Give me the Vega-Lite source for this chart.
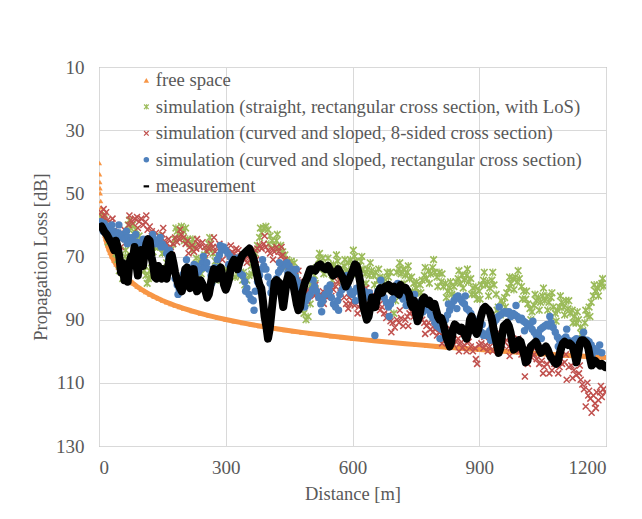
{
  "$schema": "https://vega.github.io/schema/vega-lite/v6.json",
  "width": 507,
  "height": 379,
  "autosize": {"type": "none"},
  "padding": {"left": 99, "top": 67, "right": 36, "bottom": 73},
  "background": "white",
  "config": {
    "font": "Liberation Serif",
    "view": {"stroke": "#8c8c8c", "strokeWidth": 1},
    "axis": {
      "domain": false, "ticks": false, "grid": true, "gridColor": "#d9d9d9", "gridWidth": 1,
      "labelFont": "Liberation Serif", "labelFontSize": 19, "labelColor": "#595959",
      "titleFont": "Liberation Serif", "titleFontSize": 18.5, "titleColor": "#595959", "titleFontWeight": "normal"
    },
    "legend": {
      "labelFont": "Liberation Serif", "labelFontSize": 18.7, "labelColor": "#595959", "labelLimit": 0,
      "symbolSize": 30, "rowPadding": 6.5, "labelOffset": 0, "symbolStrokeWidth": 0
    }
  },
  "datasets": {
    "fs": [
      {"d":1,"L":40.4},{"d":1.5,"L":43.92},{"d":2,"L":46.42},{"d":2.5,"L":48.36},{"d":3,"L":49.94},{"d":4,"L":52.44},{"d":5,"L":54.38},{"d":6,"L":55.96},{"d":7,"L":57.3},{"d":8,"L":58.46},{"d":9,"L":59.48},{"d":10,"L":60.4},{"d":12,"L":61.98},{"d":14,"L":63.32},{"d":16,"L":64.48},{"d":18,"L":65.51},{"d":20,"L":66.42},{"d":23,"L":67.64},{"d":26,"L":68.7},{"d":30,"L":69.94},{"d":35,"L":71.28},{"d":40,"L":72.44},{"d":45,"L":73.46},{"d":50,"L":74.38},{"d":55,"L":75.21},{"d":60,"L":75.96},{"d":65,"L":76.66},{"d":70,"L":77.3},{"d":75,"L":77.9},{"d":80,"L":78.46},{"d":90,"L":79.48},{"d":100,"L":80.4},{"d":110,"L":81.23},{"d":120,"L":81.98},{"d":130,"L":82.68},{"d":140,"L":83.32},{"d":150,"L":83.92},{"d":160,"L":84.48},{"d":170,"L":85.01},{"d":180,"L":85.51},{"d":190,"L":85.98},{"d":200,"L":86.42},{"d":220,"L":87.25},{"d":240,"L":88.0},{"d":260,"L":88.7},{"d":280,"L":89.34},{"d":300,"L":89.94},{"d":320,"L":90.5},{"d":340,"L":91.03},{"d":360,"L":91.53},{"d":380,"L":92.0},{"d":400,"L":92.44},{"d":420,"L":92.86},{"d":440,"L":93.27},{"d":460,"L":93.66},{"d":480,"L":94.02},{"d":500,"L":94.38},{"d":525,"L":94.8},{"d":550,"L":95.21},{"d":575,"L":95.59},{"d":600,"L":95.96},{"d":625,"L":96.32},{"d":650,"L":96.66},{"d":675,"L":96.99},{"d":700,"L":97.3},{"d":725,"L":97.61},{"d":750,"L":97.9},{"d":775,"L":98.19},{"d":800,"L":98.46},{"d":825,"L":98.73},{"d":850,"L":98.99},{"d":875,"L":99.24},{"d":900,"L":99.48},{"d":925,"L":99.72},{"d":950,"L":99.95},{"d":975,"L":100.18},{"d":1000,"L":100.4},{"d":1025,"L":100.61},{"d":1050,"L":100.82},{"d":1075,"L":101.03},{"d":1100,"L":101.23},{"d":1125,"L":101.42},{"d":1150,"L":101.61},{"d":1175,"L":101.8},{"d":1200,"L":101.98}
    ],
    "green": [
      {"d":3,"L":57},{"d":8,"L":59.5},{"d":12,"L":58},{"d":16,"L":61.5},{"d":20,"L":60},{"d":24,"L":64},{"d":28,"L":62.5},{"d":32,"L":66},{"d":36,"L":64.5},{"d":40,"L":69},{"d":44,"L":71},{"d":48,"L":74.5},{"d":52,"L":73},{"d":56,"L":77},{"d":60,"L":74},{"d":63,"L":68},{"d":66,"L":63},{"d":69,"L":60},{"d":72,"L":58.5},{"d":75,"L":61},{"d":79,"L":60},{"d":83,"L":63},{"d":87,"L":61.5},{"d":91,"L":65},{"d":95,"L":63.5},{"d":99,"L":67},{"d":103,"L":70},{"d":107,"L":74.5},{"d":111,"L":76},{"d":114,"L":78.5},{"d":117,"L":77},{"d":120,"L":74.5},{"d":124,"L":72},{"d":128,"L":68.5},{"d":132,"L":67},{"d":136,"L":65},{"d":140,"L":67},{"d":145,"L":66},{"d":150,"L":69},{"d":155,"L":67.5},{"d":160,"L":72},{"d":165,"L":70},{"d":170,"L":68},{"d":175,"L":66},{"d":180,"L":64.5},{"d":185,"L":62},{"d":190,"L":63},{"d":195,"L":60.5},{"d":200,"L":62},{"d":205,"L":61},{"d":210,"L":64.5},{"d":215,"L":66},{"d":220,"L":68},{"d":225,"L":66.5},{"d":230,"L":70.5},{"d":235,"L":72.5},{"d":240,"L":71},{"d":245,"L":73},{"d":250,"L":69.5},{"d":255,"L":68},{"d":260,"L":66},{"d":265,"L":67.5},{"d":270,"L":69},{"d":275,"L":71.5},{"d":280,"L":73},{"d":285,"L":75},{"d":290,"L":77},{"d":295,"L":76},{"d":300,"L":78},{"d":305,"L":75},{"d":310,"L":73.5},{"d":315,"L":71},{"d":320,"L":72.5},{"d":325,"L":74},{"d":330,"L":76},{"d":335,"L":75},{"d":340,"L":77.5},{"d":345,"L":79},{"d":350,"L":77.5},{"d":355,"L":76},{"d":360,"L":73},{"d":365,"L":71},{"d":370,"L":69},{"d":375,"L":66.5},{"d":380,"L":64},{"d":385,"L":62.5},{"d":390,"L":61},{"d":395,"L":60.5},{"d":400,"L":61.5},{"d":405,"L":63.5},{"d":410,"L":65},{"d":415,"L":66.5},{"d":420,"L":65},{"d":425,"L":67.5},{"d":430,"L":66.5},{"d":435,"L":68.5},{"d":440,"L":69.5},{"d":445,"L":71},{"d":450,"L":72.5},{"d":455,"L":71.5},{"d":460,"L":74},{"d":465,"L":76.5},{"d":470,"L":79},{"d":475,"L":82},{"d":480,"L":85},{"d":485,"L":88},{"d":490,"L":90},{"d":495,"L":89},{"d":500,"L":85},{"d":505,"L":80},{"d":510,"L":76},{"d":515,"L":73.5},{"d":520,"L":71},{"d":525,"L":72.5},{"d":530,"L":70.5},{"d":535,"L":73},{"d":540,"L":74.5},{"d":545,"L":73},{"d":550,"L":75},{"d":555,"L":72.5},{"d":560,"L":73.5},{"d":565,"L":71.5},{"d":570,"L":74},{"d":575,"L":75},{"d":580,"L":73},{"d":585,"L":74.5},{"d":590,"L":72},{"d":595,"L":71},{"d":600,"L":72.5},{"d":605,"L":70},{"d":610,"L":71.5},{"d":615,"L":73},{"d":620,"L":71.5},{"d":625,"L":74},{"d":630,"L":75.5},{"d":635,"L":74},{"d":640,"L":76},{"d":645,"L":74.5},{"d":650,"L":76},{"d":655,"L":75},{"d":660,"L":77.5},{"d":665,"L":76.5},{"d":670,"L":78.5},{"d":675,"L":77},{"d":680,"L":79},{"d":685,"L":76.5},{"d":690,"L":75},{"d":695,"L":80},{"d":698,"L":88},{"d":702,"L":84},{"d":705,"L":75},{"d":710,"L":74},{"d":715,"L":75.5},{"d":720,"L":74},{"d":725,"L":76},{"d":730,"L":75},{"d":735,"L":77},{"d":740,"L":76.5},{"d":745,"L":78.5},{"d":750,"L":80},{"d":755,"L":81.5},{"d":760,"L":79},{"d":765,"L":77.5},{"d":770,"L":76},{"d":775,"L":77},{"d":780,"L":74.5},{"d":785,"L":75.5},{"d":790,"L":73.5},{"d":795,"L":75},{"d":800,"L":76.5},{"d":805,"L":75},{"d":810,"L":78},{"d":815,"L":79.5},{"d":820,"L":78.5},{"d":825,"L":81},{"d":830,"L":80},{"d":835,"L":82},{"d":840,"L":79.5},{"d":845,"L":78},{"d":850,"L":77},{"d":855,"L":78.5},{"d":860,"L":76},{"d":865,"L":77.5},{"d":870,"L":76},{"d":875,"L":78},{"d":880,"L":77},{"d":885,"L":80},{"d":890,"L":82},{"d":895,"L":83.5},{"d":900,"L":81},{"d":905,"L":79},{"d":910,"L":77.5},{"d":915,"L":79},{"d":920,"L":78},{"d":925,"L":80},{"d":930,"L":77.5},{"d":935,"L":79},{"d":940,"L":82},{"d":945,"L":86},{"d":950,"L":88.5},{"d":955,"L":85},{"d":960,"L":83},{"d":965,"L":81.5},{"d":970,"L":80},{"d":975,"L":78.5},{"d":980,"L":77},{"d":985,"L":76.5},{"d":990,"L":78},{"d":995,"L":77},{"d":1000,"L":79.5},{"d":1005,"L":81},{"d":1010,"L":83.5},{"d":1015,"L":85},{"d":1020,"L":86.5},{"d":1025,"L":87.5},{"d":1030,"L":85.5},{"d":1035,"L":84},{"d":1040,"L":83},{"d":1045,"L":84.5},{"d":1050,"L":82.5},{"d":1055,"L":84},{"d":1060,"L":82.5},{"d":1065,"L":84.5},{"d":1070,"L":83},{"d":1075,"L":86},{"d":1080,"L":88},{"d":1085,"L":87},{"d":1090,"L":86},{"d":1095,"L":84.5},{"d":1100,"L":86},{"d":1105,"L":84},{"d":1110,"L":86.5},{"d":1115,"L":88},{"d":1120,"L":87},{"d":1125,"L":89},{"d":1130,"L":91},{"d":1135,"L":90},{"d":1140,"L":92.5},{"d":1145,"L":93.5},{"d":1150,"L":91},{"d":1155,"L":88.5},{"d":1160,"L":86},{"d":1165,"L":84.5},{"d":1170,"L":82.5},{"d":1175,"L":81},{"d":1180,"L":80},{"d":1185,"L":79},{"d":1190,"L":78.5},{"d":1195,"L":79.5},
      {"d":22,"L":65.5},{"d":42,"L":67},{"d":62,"L":70},{"d":82,"L":64.5},{"d":102,"L":66},{"d":122,"L":76.5},{"d":142,"L":63.5},{"d":162,"L":74},{"d":182,"L":61},{"d":202,"L":65},{"d":222,"L":64.5},{"d":242,"L":75.5},{"d":262,"L":64},{"d":282,"L":77.5},{"d":302,"L":74},{"d":322,"L":76.5},{"d":342,"L":75},{"d":362,"L":75.5},{"d":382,"L":61},{"d":402,"L":66},{"d":422,"L":63},{"d":442,"L":73.5},{"d":462,"L":72},{"d":482,"L":82},{"d":502,"L":79},{"d":512,"L":78.5},{"d":522,"L":69},{"d":532,"L":75.5},{"d":542,"L":70.5},{"d":552,"L":77.5},{"d":562,"L":69.5},{"d":572,"L":78},{"d":582,"L":71},{"d":592,"L":75},{"d":602,"L":68},{"d":612,"L":75.5},{"d":622,"L":70},{"d":632,"L":78.5},{"d":642,"L":72},{"d":652,"L":79},{"d":662,"L":74},{"d":672,"L":81.5},{"d":682,"L":75},{"d":692,"L":80.5},{"d":712,"L":72},{"d":722,"L":78.5},{"d":732,"L":73},{"d":742,"L":81},{"d":752,"L":78},{"d":762,"L":81.5},{"d":772,"L":73.5},{"d":782,"L":78.5},{"d":792,"L":71},{"d":802,"L":79.5},{"d":812,"L":75.5},{"d":822,"L":83},{"d":832,"L":78},{"d":842,"L":82.5},{"d":852,"L":74.5},{"d":862,"L":80},{"d":872,"L":74},{"d":882,"L":82},{"d":892,"L":79.5},{"d":902,"L":83.5},{"d":912,"L":75},{"d":922,"L":82.5},{"d":932,"L":75},{"d":942,"L":87},{"d":952,"L":84},{"d":962,"L":86},{"d":972,"L":76.5},{"d":982,"L":80.5},{"d":992,"L":74.5},{"d":1002,"L":83.5},{"d":1012,"L":81},{"d":1022,"L":90},{"d":1032,"L":82},{"d":1042,"L":87},{"d":1052,"L":80},{"d":1062,"L":87},{"d":1072,"L":81.5},{"d":1082,"L":90.5},{"d":1092,"L":82.5},{"d":1102,"L":88.5},{"d":1112,"L":84},{"d":1122,"L":91},{"d":1132,"L":87.5},{"d":1142,"L":94.5},{"d":1152,"L":87},{"d":1162,"L":89},{"d":1172,"L":79},{"d":1182,"L":82.5},{"d":1192,"L":77}
    ],
    "red": [
      {"d":5,"L":56},{"d":8,"L":57.5},{"d":11,"L":55},{"d":14,"L":57},{"d":17,"L":56},{"d":20,"L":58.5},{"d":25,"L":60},{"d":30,"L":59.5},{"d":35,"L":62},{"d":40,"L":63.5},{"d":45,"L":62.5},{"d":50,"L":64.5},{"d":55,"L":63},{"d":60,"L":61.5},{"d":65,"L":62.5},{"d":70,"L":60},{"d":75,"L":58.5},{"d":80,"L":59.5},{"d":85,"L":58},{"d":90,"L":57.5},{"d":95,"L":59},{"d":100,"L":58},{"d":105,"L":60},{"d":110,"L":59},{"d":115,"L":61.5},{"d":120,"L":60.5},{"d":125,"L":62},{"d":130,"L":63.5},{"d":135,"L":62.5},{"d":140,"L":65},{"d":145,"L":64},{"d":150,"L":63},{"d":155,"L":65},{"d":160,"L":66},{"d":165,"L":64.5},{"d":170,"L":67},{"d":175,"L":66},{"d":180,"L":64},{"d":185,"L":65.5},{"d":190,"L":64.5},{"d":195,"L":63},{"d":200,"L":64},{"d":205,"L":66},{"d":210,"L":65},{"d":215,"L":67},{"d":220,"L":66.5},{"d":225,"L":68.5},{"d":230,"L":67.5},{"d":235,"L":66},{"d":240,"L":67},{"d":245,"L":65.5},{"d":250,"L":67},{"d":255,"L":68.5},{"d":260,"L":67.5},{"d":265,"L":66},{"d":270,"L":67},{"d":275,"L":68.5},{"d":280,"L":67},{"d":285,"L":66},{"d":290,"L":67.5},{"d":295,"L":68},{"d":300,"L":67},{"d":305,"L":69},{"d":310,"L":70},{"d":315,"L":68.5},{"d":320,"L":69},{"d":325,"L":67.5},{"d":330,"L":68},{"d":335,"L":70},{"d":340,"L":69.5},{"d":345,"L":71},{"d":350,"L":72},{"d":355,"L":70.5},{"d":360,"L":71},{"d":365,"L":69},{"d":370,"L":68},{"d":375,"L":67.5},{"d":380,"L":66.5},{"d":385,"L":67.5},{"d":390,"L":66},{"d":395,"L":67},{"d":400,"L":68},{"d":405,"L":69},{"d":410,"L":67.5},{"d":415,"L":68.5},{"d":420,"L":67},{"d":425,"L":68.5},{"d":430,"L":70},{"d":435,"L":69.5},{"d":440,"L":71},{"d":445,"L":72},{"d":450,"L":73},{"d":455,"L":74},{"d":460,"L":75.5},{"d":465,"L":76},{"d":470,"L":77.5},{"d":475,"L":78},{"d":480,"L":79.5},{"d":485,"L":80},{"d":490,"L":81.5},{"d":495,"L":80.5},{"d":500,"L":82},{"d":505,"L":81},{"d":510,"L":82.5},{"d":515,"L":81.5},{"d":520,"L":83},{"d":525,"L":82},{"d":530,"L":81},{"d":535,"L":82.5},{"d":540,"L":83},{"d":545,"L":81.5},{"d":550,"L":82.5},{"d":555,"L":80.5},{"d":560,"L":79.5},{"d":565,"L":78},{"d":570,"L":77.5},{"d":575,"L":80},{"d":580,"L":83},{"d":585,"L":85},{"d":590,"L":86.5},{"d":595,"L":85},{"d":600,"L":84},{"d":605,"L":85.5},{"d":610,"L":84},{"d":615,"L":86},{"d":620,"L":85},{"d":625,"L":83.5},{"d":630,"L":84},{"d":635,"L":82},{"d":640,"L":81.5},{"d":645,"L":83},{"d":650,"L":82},{"d":655,"L":84},{"d":660,"L":85.5},{"d":665,"L":87},{"d":670,"L":86},{"d":675,"L":88},{"d":680,"L":89.5},{"d":685,"L":88.5},{"d":690,"L":90.5},{"d":695,"L":91},{"d":700,"L":92.5},{"d":705,"L":90},{"d":710,"L":91},{"d":715,"L":89.5},{"d":720,"L":92},{"d":725,"L":90},{"d":730,"L":89},{"d":735,"L":88},{"d":740,"L":87.5},{"d":745,"L":89},{"d":750,"L":87},{"d":755,"L":88.5},{"d":760,"L":89},{"d":765,"L":90},{"d":770,"L":91},{"d":775,"L":92},{"d":780,"L":91},{"d":785,"L":93},{"d":790,"L":94},{"d":795,"L":93},{"d":800,"L":95},{"d":805,"L":94},{"d":810,"L":93.5},{"d":815,"L":95.5},{"d":820,"L":96},{"d":825,"L":95},{"d":830,"L":97},{"d":835,"L":96.5},{"d":840,"L":98},{"d":845,"L":97},{"d":850,"L":96},{"d":855,"L":97.5},{"d":860,"L":99},{"d":865,"L":98},{"d":870,"L":100},{"d":875,"L":97},{"d":880,"L":98.5},{"d":885,"L":100},{"d":890,"L":99},{"d":895,"L":104},{"d":900,"L":98},{"d":905,"L":97.5},{"d":910,"L":99},{"d":915,"L":98},{"d":920,"L":100},{"d":925,"L":98.5},{"d":930,"L":97},{"d":935,"L":96.5},{"d":940,"L":98},{"d":945,"L":96},{"d":950,"L":97.5},{"d":955,"L":98},{"d":960,"L":97},{"d":965,"L":96.5},{"d":970,"L":98.5},{"d":975,"L":99},{"d":980,"L":97.5},{"d":985,"L":99.5},{"d":990,"L":98},{"d":995,"L":100},{"d":1000,"L":101},{"d":1005,"L":99.5},{"d":1008,"L":108},{"d":1012,"L":101},{"d":1018,"L":100},{"d":1024,"L":102},{"d":1030,"L":101},{"d":1036,"L":102.5},{"d":1042,"L":104},{"d":1048,"L":103},{"d":1054,"L":105},{"d":1060,"L":104},{"d":1066,"L":107},{"d":1072,"L":106},{"d":1078,"L":104},{"d":1084,"L":103},{"d":1090,"L":105},{"d":1096,"L":104},{"d":1102,"L":103.5},{"d":1107,"L":109},{"d":1112,"L":105},{"d":1118,"L":104.5},{"d":1124,"L":106},{"d":1130,"L":107.5},{"d":1136,"L":107},{"d":1140,"L":109},{"d":1144,"L":110.5},{"d":1148,"L":112},{"d":1152,"L":117.5},{"d":1156,"L":110},{"d":1160,"L":112.5},{"d":1163,"L":115},{"d":1166,"L":119.5},{"d":1170,"L":114},{"d":1174,"L":116.5},{"d":1178,"L":113},{"d":1182,"L":115.5},{"d":1186,"L":113},{"d":1190,"L":114.5},{"d":1194,"L":112},{"d":1198,"L":113},
      {"d":12,"L":59},{"d":32,"L":58},{"d":52,"L":67},{"d":72,"L":57},{"d":92,"L":61},{"d":112,"L":57},{"d":132,"L":66},{"d":152,"L":61},{"d":172,"L":69.5},{"d":192,"L":61.5},{"d":212,"L":69},{"d":232,"L":64.5},{"d":252,"L":70.5},{"d":272,"L":64},{"d":292,"L":71},{"d":312,"L":66.5},{"d":332,"L":72},{"d":352,"L":68.5},{"d":372,"L":71},{"d":392,"L":63.5},{"d":412,"L":71},{"d":432,"L":67},{"d":452,"L":76.5},{"d":472,"L":74.5},{"d":492,"L":84},{"d":512,"L":79},{"d":532,"L":85},{"d":552,"L":79},{"d":572,"L":81.5},{"d":592,"L":83},{"d":612,"L":88},{"d":632,"L":80},{"d":652,"L":86},{"d":672,"L":84},{"d":692,"L":94},{"d":712,"L":87},{"d":732,"L":92},{"d":752,"L":85},{"d":772,"L":94.5},{"d":792,"L":90.5},{"d":812,"L":97.5},{"d":832,"L":93},{"d":852,"L":100},{"d":872,"L":95},{"d":892,"L":102.5},{"d":912,"L":95.5},{"d":932,"L":100},{"d":952,"L":94.5},{"d":972,"L":101.5},{"d":992,"L":96},{"d":1015,"L":104},{"d":1033,"L":99},{"d":1051,"L":107},{"d":1069,"L":103},{"d":1087,"L":107},{"d":1105,"L":101},{"d":1121,"L":108.5},{"d":1138,"L":104.5},{"d":1158,"L":114},{"d":1176,"L":118},{"d":1188,"L":111}
    ],
    "blue": [
      {"d":4,"L":59},{"d":8,"L":60},{"d":12,"L":59.5},{"d":16,"L":61},{"d":20,"L":60.5},{"d":25,"L":61.5},{"d":30,"L":60},{"d":35,"L":62},{"d":40,"L":63.5},{"d":45,"L":62.5},{"d":50,"L":64},{"d":55,"L":63},{"d":60,"L":64.5},{"d":65,"L":62},{"d":70,"L":64},{"d":75,"L":65},{"d":80,"L":64},{"d":85,"L":66.5},{"d":90,"L":65.5},{"d":95,"L":67.5},{"d":100,"L":66},{"d":105,"L":64.5},{"d":110,"L":65},{"d":115,"L":67},{"d":120,"L":66},{"d":125,"L":65.5},{"d":130,"L":64.5},{"d":135,"L":66},{"d":140,"L":65},{"d":145,"L":64},{"d":150,"L":66},{"d":155,"L":67},{"d":160,"L":69},{"d":165,"L":70.5},{"d":170,"L":72},{"d":175,"L":74.5},{"d":180,"L":77},{"d":185,"L":79},{"d":190,"L":80.5},{"d":195,"L":78},{"d":200,"L":75.5},{"d":205,"L":74},{"d":210,"L":73.5},{"d":215,"L":75},{"d":220,"L":74},{"d":225,"L":72.5},{"d":230,"L":73},{"d":235,"L":75},{"d":240,"L":74},{"d":245,"L":72},{"d":250,"L":73.5},{"d":255,"L":72},{"d":260,"L":74},{"d":265,"L":76},{"d":270,"L":75},{"d":275,"L":73.5},{"d":280,"L":71},{"d":285,"L":69.5},{"d":290,"L":68},{"d":295,"L":67},{"d":300,"L":68},{"d":305,"L":69},{"d":310,"L":70},{"d":315,"L":71},{"d":320,"L":72.5},{"d":325,"L":73},{"d":330,"L":74},{"d":335,"L":75.5},{"d":340,"L":76},{"d":345,"L":78},{"d":350,"L":80},{"d":355,"L":82},{"d":360,"L":83.5},{"d":365,"L":84},{"d":370,"L":81},{"d":375,"L":78},{"d":380,"L":76},{"d":385,"L":74},{"d":390,"L":73},{"d":395,"L":74},{"d":400,"L":76.5},{"d":405,"L":78.5},{"d":410,"L":80},{"d":415,"L":79},{"d":420,"L":77},{"d":425,"L":75},{"d":430,"L":74},{"d":435,"L":73},{"d":440,"L":72.5},{"d":445,"L":72},{"d":450,"L":73},{"d":455,"L":74},{"d":460,"L":75},{"d":465,"L":76.5},{"d":470,"L":78},{"d":475,"L":80},{"d":480,"L":81},{"d":485,"L":82.5},{"d":490,"L":84},{"d":495,"L":83},{"d":500,"L":82},{"d":505,"L":80.5},{"d":510,"L":79.5},{"d":515,"L":81},{"d":520,"L":83},{"d":525,"L":85},{"d":530,"L":84},{"d":535,"L":82},{"d":540,"L":80},{"d":545,"L":81},{"d":550,"L":83},{"d":555,"L":85},{"d":560,"L":86},{"d":565,"L":84},{"d":570,"L":82},{"d":575,"L":80.5},{"d":580,"L":79},{"d":585,"L":78.5},{"d":590,"L":80},{"d":595,"L":81.5},{"d":600,"L":82},{"d":605,"L":81},{"d":610,"L":80},{"d":615,"L":81},{"d":620,"L":82.5},{"d":625,"L":84},{"d":630,"L":83},{"d":635,"L":82},{"d":640,"L":81.5},{"d":653,"L":95},{"d":660,"L":81},{"d":665,"L":80},{"d":670,"L":81.5},{"d":675,"L":83},{"d":680,"L":84.5},{"d":685,"L":86},{"d":690,"L":85},{"d":695,"L":83.5},{"d":700,"L":82},{"d":705,"L":81},{"d":710,"L":81.5},{"d":715,"L":82.5},{"d":720,"L":83.5},{"d":725,"L":82},{"d":730,"L":81.5},{"d":735,"L":83},{"d":740,"L":84},{"d":745,"L":85},{"d":750,"L":86},{"d":755,"L":85},{"d":760,"L":84.5},{"d":765,"L":84},{"d":770,"L":85},{"d":775,"L":86},{"d":780,"L":87},{"d":785,"L":88.5},{"d":790,"L":89.5},{"d":795,"L":91},{"d":800,"L":92},{"d":805,"L":92.5},{"d":810,"L":93},{"d":815,"L":91},{"d":820,"L":90},{"d":825,"L":88.5},{"d":830,"L":87},{"d":835,"L":85.5},{"d":840,"L":84},{"d":845,"L":83},{"d":850,"L":82.5},{"d":855,"L":83.5},{"d":860,"L":84.5},{"d":865,"L":85},{"d":870,"L":86.5},{"d":875,"L":87},{"d":880,"L":88},{"d":885,"L":89.5},{"d":890,"L":90.5},{"d":895,"L":92},{"d":900,"L":93},{"d":905,"L":94},{"d":910,"L":95},{"d":915,"L":94.5},{"d":920,"L":95},{"d":925,"L":93.5},{"d":930,"L":92.5},{"d":935,"L":91},{"d":940,"L":90},{"d":945,"L":89},{"d":950,"L":88.5},{"d":955,"L":88},{"d":960,"L":87.5},{"d":965,"L":88},{"d":970,"L":87.5},{"d":975,"L":89},{"d":980,"L":88},{"d":985,"L":88.5},{"d":990,"L":89},{"d":995,"L":90},{"d":1000,"L":89.5},{"d":1005,"L":90.5},{"d":1010,"L":91},{"d":1015,"L":92},{"d":1020,"L":91.5},{"d":1025,"L":93},{"d":1030,"L":94},{"d":1035,"L":95},{"d":1040,"L":94.5},{"d":1045,"L":93},{"d":1050,"L":92.5},{"d":1055,"L":92},{"d":1060,"L":91.5},{"d":1065,"L":92},{"d":1070,"L":91},{"d":1075,"L":92.5},{"d":1080,"L":94},{"d":1085,"L":95.5},{"d":1090,"L":96.5},{"d":1095,"L":97},{"d":1100,"L":96},{"d":1105,"L":95.5},{"d":1110,"L":96.5},{"d":1115,"L":97},{"d":1120,"L":97.5},{"d":1125,"L":96.5},{"d":1130,"L":96},{"d":1135,"L":97},{"d":1140,"L":96.5},{"d":1145,"L":96},{"d":1150,"L":97},{"d":1155,"L":96.5},{"d":1160,"L":97},{"d":1165,"L":98},{"d":1170,"L":99},{"d":1180,"L":100},{"d":1190,"L":100.5},
      {"d":10,"L":62},{"d":27,"L":63},{"d":47,"L":60},{"d":67,"L":66},{"d":87,"L":63},{"d":107,"L":68},{"d":127,"L":63},{"d":147,"L":67},{"d":167,"L":68},{"d":187,"L":82},{"d":207,"L":71},{"d":227,"L":76},{"d":247,"L":70},{"d":267,"L":78.5},{"d":287,"L":66.5},{"d":307,"L":72.5},{"d":327,"L":70.5},{"d":347,"L":81},{"d":367,"L":87},{"d":387,"L":71},{"d":407,"L":81.5},{"d":427,"L":72},{"d":447,"L":75},{"d":467,"L":74},{"d":487,"L":86},{"d":507,"L":77.5},{"d":527,"L":87.5},{"d":547,"L":79},{"d":567,"L":87},{"d":587,"L":76},{"d":607,"L":84},{"d":627,"L":81},{"d":647,"L":85},{"d":667,"L":77.5},{"d":687,"L":89},{"d":707,"L":78.5},{"d":727,"L":85.5},{"d":747,"L":82},{"d":767,"L":87.5},{"d":787,"L":85.5},{"d":807,"L":96},{"d":827,"L":85},{"d":847,"L":86.5},{"d":867,"L":82.5},{"d":887,"L":92.5},{"d":907,"L":91.5},{"d":927,"L":96.5},{"d":947,"L":86},{"d":967,"L":91},{"d":987,"L":85.5},{"d":1007,"L":93.5},{"d":1027,"L":90.5},{"d":1047,"L":96},{"d":1067,"L":89},{"d":1087,"L":98.5},{"d":1107,"L":93},{"d":1127,"L":99.5},{"d":1147,"L":94},{"d":1167,"L":101},{"d":1185,"L":98}
    ],
    "meas": [
      {"d":6,"L":60.5},{"d":12,"L":62},{"d":18,"L":63},{"d":24,"L":64.5},{"d":30,"L":66},{"d":36,"L":68},{"d":40,"L":65},{"d":44,"L":67},{"d":48,"L":70},{"d":52,"L":75},{"d":56,"L":72},{"d":60,"L":77.5},{"d":64,"L":74},{"d":68,"L":78},{"d":72,"L":72},{"d":76,"L":70},{"d":80,"L":71.5},{"d":84,"L":67},{"d":88,"L":72},{"d":92,"L":76},{"d":96,"L":70},{"d":100,"L":68},{"d":104,"L":73},{"d":108,"L":69},{"d":112,"L":66},{"d":116,"L":64.5},{"d":120,"L":65},{"d":124,"L":70},{"d":128,"L":72.5},{"d":132,"L":76.5},{"d":136,"L":77},{"d":140,"L":73},{"d":144,"L":76.5},{"d":148,"L":77},{"d":152,"L":74},{"d":156,"L":76},{"d":160,"L":77},{"d":164,"L":73},{"d":168,"L":70},{"d":172,"L":69.5},{"d":176,"L":72},{"d":180,"L":75},{"d":184,"L":77},{"d":188,"L":79},{"d":192,"L":80},{"d":196,"L":81},{"d":200,"L":79},{"d":204,"L":74},{"d":208,"L":73.5},{"d":212,"L":77},{"d":216,"L":80},{"d":220,"L":78},{"d":224,"L":74},{"d":228,"L":78},{"d":232,"L":81},{"d":236,"L":80},{"d":240,"L":77.5},{"d":244,"L":78.5},{"d":248,"L":80},{"d":252,"L":81},{"d":256,"L":83},{"d":260,"L":82},{"d":264,"L":79},{"d":268,"L":76},{"d":272,"L":74},{"d":276,"L":75},{"d":280,"L":77},{"d":284,"L":74},{"d":288,"L":73.5},{"d":292,"L":76},{"d":296,"L":79},{"d":300,"L":80.5},{"d":304,"L":79},{"d":308,"L":77},{"d":312,"L":73.5},{"d":316,"L":72},{"d":320,"L":71},{"d":324,"L":72.5},{"d":328,"L":74},{"d":332,"L":72},{"d":336,"L":70.5},{"d":340,"L":69.5},{"d":344,"L":69},{"d":348,"L":68.5},{"d":352,"L":68},{"d":356,"L":67.5},{"d":360,"L":69},{"d":364,"L":70},{"d":368,"L":72},{"d":372,"L":74.5},{"d":376,"L":77},{"d":380,"L":79},{"d":384,"L":80},{"d":388,"L":84},{"d":392,"L":89},{"d":396,"L":92},{"d":400,"L":96},{"d":404,"L":93},{"d":408,"L":88},{"d":412,"L":83},{"d":416,"L":78},{"d":420,"L":77.5},{"d":424,"L":78},{"d":428,"L":78.5},{"d":432,"L":82},{"d":436,"L":86},{"d":440,"L":82},{"d":444,"L":78},{"d":448,"L":76},{"d":452,"L":76.5},{"d":456,"L":77},{"d":460,"L":79},{"d":464,"L":82},{"d":468,"L":85},{"d":472,"L":87},{"d":476,"L":86},{"d":480,"L":82},{"d":484,"L":80},{"d":488,"L":78},{"d":492,"L":77},{"d":496,"L":75.5},{"d":500,"L":74},{"d":506,"L":74},{"d":512,"L":74.5},{"d":518,"L":73},{"d":524,"L":72.5},{"d":530,"L":73.5},{"d":536,"L":74},{"d":542,"L":73},{"d":548,"L":74.5},{"d":554,"L":76},{"d":560,"L":75.5},{"d":566,"L":74},{"d":572,"L":75.5},{"d":578,"L":77},{"d":584,"L":79.5},{"d":590,"L":78},{"d":596,"L":76},{"d":602,"L":74},{"d":606,"L":72.5},{"d":610,"L":73},{"d":614,"L":75},{"d":618,"L":78},{"d":622,"L":82},{"d":626,"L":86},{"d":630,"L":88},{"d":634,"L":90},{"d":638,"L":89},{"d":642,"L":86},{"d":646,"L":83},{"d":650,"L":84.5},{"d":654,"L":86},{"d":658,"L":83},{"d":662,"L":81},{"d":666,"L":80},{"d":670,"L":81.5},{"d":674,"L":80},{"d":678,"L":79.5},{"d":682,"L":80},{"d":686,"L":79},{"d":690,"L":80.5},{"d":694,"L":81},{"d":698,"L":79.5},{"d":702,"L":80},{"d":706,"L":81.5},{"d":710,"L":82},{"d":714,"L":79},{"d":718,"L":80},{"d":722,"L":80.5},{"d":726,"L":80},{"d":730,"L":81},{"d":734,"L":82},{"d":738,"L":85},{"d":742,"L":86},{"d":746,"L":84},{"d":750,"L":88},{"d":754,"L":90.5},{"d":758,"L":89},{"d":762,"L":86},{"d":766,"L":83.5},{"d":770,"L":83},{"d":774,"L":84.5},{"d":778,"L":85},{"d":782,"L":84},{"d":786,"L":85.5},{"d":790,"L":86},{"d":794,"L":85},{"d":798,"L":87},{"d":802,"L":89},{"d":806,"L":90},{"d":810,"L":89.5},{"d":814,"L":91},{"d":818,"L":93},{"d":822,"L":95.5},{"d":826,"L":97},{"d":830,"L":98.5},{"d":834,"L":97},{"d":838,"L":93},{"d":842,"L":91.5},{"d":846,"L":92},{"d":850,"L":93},{"d":854,"L":93.5},{"d":858,"L":92.5},{"d":862,"L":93.5},{"d":866,"L":95},{"d":870,"L":96},{"d":874,"L":94},{"d":878,"L":90},{"d":882,"L":89},{"d":886,"L":91.5},{"d":890,"L":93.5},{"d":894,"L":94.5},{"d":898,"L":93},{"d":902,"L":90},{"d":906,"L":88},{"d":910,"L":86.5},{"d":914,"L":86},{"d":918,"L":86.5},{"d":922,"L":87},{"d":926,"L":88},{"d":930,"L":90},{"d":934,"L":93},{"d":938,"L":95.5},{"d":942,"L":98},{"d":946,"L":100.5},{"d":950,"L":99},{"d":954,"L":95},{"d":958,"L":92},{"d":962,"L":91.5},{"d":966,"L":91},{"d":970,"L":92},{"d":974,"L":94},{"d":978,"L":97},{"d":982,"L":99.5},{"d":986,"L":99},{"d":990,"L":97},{"d":994,"L":96.5},{"d":998,"L":97},{"d":1002,"L":99},{"d":1006,"L":101},{"d":1010,"L":103.5},{"d":1014,"L":103},{"d":1018,"L":100},{"d":1022,"L":98.5},{"d":1026,"L":98},{"d":1030,"L":97.5},{"d":1034,"L":97},{"d":1038,"L":98},{"d":1042,"L":99.5},{"d":1046,"L":100.5},{"d":1050,"L":100},{"d":1054,"L":99},{"d":1058,"L":98.5},{"d":1062,"L":99.5},{"d":1066,"L":101},{"d":1070,"L":102},{"d":1074,"L":102.5},{"d":1078,"L":103.5},{"d":1082,"L":104},{"d":1086,"L":103.5},{"d":1090,"L":101},{"d":1094,"L":99},{"d":1098,"L":97.5},{"d":1102,"L":97},{"d":1106,"L":97.5},{"d":1110,"L":98},{"d":1114,"L":97.5},{"d":1118,"L":98},{"d":1122,"L":99},{"d":1126,"L":101},{"d":1130,"L":103.5},{"d":1134,"L":101},{"d":1138,"L":97.5},{"d":1142,"L":96.5},{"d":1146,"L":96.5},{"d":1150,"L":97},{"d":1154,"L":97.5},{"d":1158,"L":99},{"d":1162,"L":102},{"d":1166,"L":104.5},{"d":1170,"L":104},{"d":1174,"L":103},{"d":1178,"L":103.5},{"d":1182,"L":104},{"d":1186,"L":104.5},{"d":1190,"L":104},{"d":1194,"L":104.5},{"d":1198,"L":105}
    ]
  },
  "encoding": {
    "x": {"field": "d", "type": "quantitative", "title": "Distance [m]",
      "scale": {"domain": [0, 1200], "nice": false, "zero": false},
      "axis": {"values": [0, 300, 600, 900, 1200], "format": "d", "labelPadding": 12, "titlePadding": 7}},
    "y": {"field": "L", "type": "quantitative", "title": "Propagation Loss [dB]",
      "scale": {"domain": [10, 130], "nice": false, "zero": false, "reverse": true},
      "axis": {"values": [10, 30, 50, 70, 90, 110, 130], "labelPadding": 15, "titlePadding": 5}}
  },
  "layer": [
    {
      "data": {"name": "fs"},
      "transform": [{"filter": "datum.d >= 6"}],
      "mark": {"type": "line", "color": "#f79646", "strokeWidth": 5, "clip": true},
      "encoding": {}
    },
    {
      "data": {"name": "fs"},
      "mark": {"type": "point", "filled": true, "opacity": 1, "size": 28, "clip": true},
      "encoding": {
        "color": {"datum": "free space", "type": "nominal",
          "scale": {"domain": ["free space", "simulation (straight, rectangular cross section, with LoS)", "simulation (curved and sloped, 8-sided cross section)", "simulation (curved and sloped, rectangular cross section)", "measurement"],
            "range": ["#f79646", "#9bbb59", "#c0504d", "#4f81bd", "#000000"]},
          "legend": {"title": null, "orient": "none", "legendX": 38, "legendY": 4}},
        "shape": {"datum": "free space", "type": "nominal",
          "scale": {"domain": ["free space", "simulation (straight, rectangular cross section, with LoS)", "simulation (curved and sloped, 8-sided cross section)", "simulation (curved and sloped, rectangular cross section)", "measurement"],
            "range": ["triangle-up", "M-1,-0.7L-0.7,-1L1,0.7L0.7,1Z M1,-0.7L-0.7,1L-1,0.7L0.7,-1Z M-0.15,-1L0.15,-1L0.15,1L-0.15,1Z", "M-1,-0.7L-0.7,-1L1,0.7L0.7,1Z M1,-0.7L-0.7,1L-1,0.7L0.7,-1Z", "circle", "M-1,-0.4L1,-0.4L1,0.4L-1,0.4Z"]},
          "legend": {"title": null, "orient": "none", "legendX": 38, "legendY": 4}}
      }
    },
    {
      "data": {"name": "green"},
      "mark": {"type": "point", "filled": true, "opacity": 1, "size": 60, "clip": true},
      "encoding": {
        "color": {"datum": "simulation (straight, rectangular cross section, with LoS)", "type": "nominal"},
        "shape": {"datum": "simulation (straight, rectangular cross section, with LoS)", "type": "nominal"}
      }
    },
    {
      "data": {"name": "red"},
      "mark": {"type": "point", "filled": true, "opacity": 1, "size": 50, "clip": true},
      "encoding": {
        "color": {"datum": "simulation (curved and sloped, 8-sided cross section)", "type": "nominal"},
        "shape": {"datum": "simulation (curved and sloped, 8-sided cross section)", "type": "nominal"}
      }
    },
    {
      "data": {"name": "blue"},
      "mark": {"type": "point", "filled": true, "opacity": 1, "size": 55, "clip": true},
      "encoding": {
        "color": {"datum": "simulation (curved and sloped, rectangular cross section)", "type": "nominal"},
        "shape": {"datum": "simulation (curved and sloped, rectangular cross section)", "type": "nominal"}
      }
    },
    {
      "data": {"name": "meas"},
      "mark": {"type": "line", "color": "#000000", "strokeWidth": 8, "strokeJoin": "round", "strokeCap": "round", "clip": true},
      "encoding": {}
    }
  ]
}
